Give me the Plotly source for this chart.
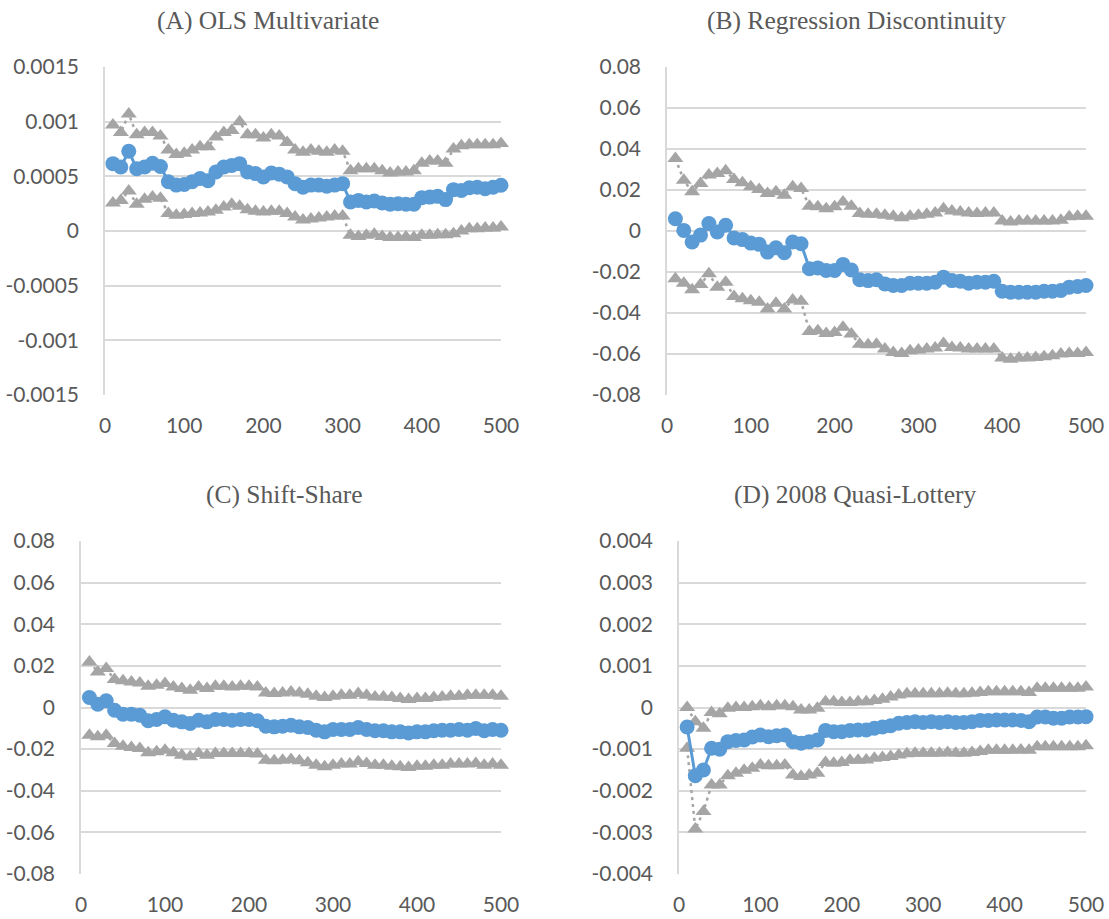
import plotly.graph_objects as go

# Styling constants
BLUE = "#5B9BD5"
GRAY = "#A5A5A5"
GRID = "#D9D9D9"
TEXT = "#595959"
TICK_FONT = "Lato"
TITLE_FONT = "Liberation Serif"
W, H = 1109, 919

# bandwidth (x)
xs = list(range(10, 501, 10))

# (A) OLS Multivariate
a_est = [0.000616, 0.000585, 0.00073, 0.00057, 0.000585, 0.00062, 0.00059, 0.00045, 0.00042, 0.000425,
         0.00045, 0.00048, 0.00046, 0.00054, 0.000585, 0.0006, 0.000616, 0.00054, 0.000525, 0.000495,
         0.00053, 0.00052, 0.000495, 0.000433, 0.0004, 0.00042, 0.00042, 0.00041, 0.00042, 0.000433,
         0.000265, 0.00028, 0.000265, 0.000275, 0.000256, 0.000244, 0.00025, 0.000244, 0.000244, 0.000305,
         0.00031, 0.000317, 0.000287, 0.000378, 0.00037, 0.000396, 0.0004, 0.000387, 0.0004, 0.000418]
a_hi = [0.00097, 0.0009, 0.00107, 0.00088, 0.0009, 0.0009, 0.00087, 0.00074, 0.0007, 0.00071,
        0.00074, 0.00077, 0.00077, 0.00086, 0.0009, 0.00092, 0.001, 0.00088, 0.00088, 0.00085,
        0.00088, 0.00087, 0.00081, 0.00074, 0.00072, 0.00074, 0.00073, 0.00072, 0.00074, 0.00073,
        0.00055, 0.00057, 0.00057, 0.00057, 0.00055, 0.00053, 0.00054, 0.00054, 0.00055, 0.00062,
        0.00064, 0.00064, 0.00062, 0.00075, 0.00078, 0.00079, 0.00079, 0.00079, 0.00079, 0.0008]
a_lo = [0.000256, 0.00028, 0.000366, 0.000244, 0.00029, 0.00031, 0.0003, 0.00016, 0.000143, 0.00015,
        0.00016, 0.000165, 0.000174, 0.00019, 0.00022, 0.000244, 0.000226, 0.000195, 0.00018, 0.000174,
        0.00018, 0.00018, 0.00016, 0.000128, 0.0001, 0.00011, 0.00012, 0.000128, 0.000137, 0.000137,
        -0.00004, -0.00005, -0.00004, -0.00003, -0.00005, -0.00006, -0.00006, -0.000055, -0.00006, -0.00004,
        -0.00004, -0.000035, -0.000035, -0.000025, 0.0, 0.00002, 0.00002, 0.000027, 0.000027, 0.000036]

# (B) Regression Discontinuity
b_est = [0.006, 0.0003, -0.0054, -0.002, 0.0036, -0.0005, 0.0028, -0.0034, -0.0042, -0.0059,
         -0.0065, -0.0103, -0.0082, -0.0106, -0.0054, -0.0062, -0.0184, -0.018, -0.0193, -0.0193,
         -0.0163, -0.019, -0.0238, -0.0242, -0.0238, -0.0258, -0.0266, -0.0266, -0.0255, -0.0255,
         -0.0255, -0.025, -0.0225, -0.0242, -0.0245, -0.0255, -0.025, -0.025, -0.0245, -0.0294,
         -0.0299, -0.0299, -0.0299, -0.0299, -0.0294, -0.0294, -0.029, -0.0274, -0.0271, -0.0266]
b_hi = [0.0354, 0.0248, 0.0191, 0.0232, 0.0273, 0.028, 0.0294, 0.0251, 0.0235, 0.0216,
        0.0202, 0.0183, 0.0191, 0.0175, 0.0216, 0.0207, 0.0121, 0.0118, 0.0109, 0.0118,
        0.0142, 0.0121, 0.0085, 0.0082, 0.0082, 0.0077, 0.0072, 0.0065, 0.0072, 0.0077,
        0.0082, 0.0088, 0.0109, 0.0098, 0.0093, 0.0088, 0.0085, 0.0088, 0.0088, 0.0049,
        0.0044, 0.0049, 0.0049, 0.0049, 0.0049, 0.0049, 0.0052, 0.0069, 0.0072, 0.0072]
b_lo = [-0.0233, -0.0255, -0.0287, -0.0261, -0.0209, -0.0274, -0.025, -0.032, -0.0331, -0.034,
        -0.0348, -0.038, -0.0353, -0.038, -0.0336, -0.0343, -0.049, -0.0487, -0.05, -0.0495,
        -0.047, -0.0503, -0.0552, -0.0555, -0.0552, -0.0576, -0.0593, -0.0598, -0.0584, -0.0581,
        -0.0576, -0.0571, -0.0549, -0.0568, -0.0571, -0.0576, -0.0576, -0.0576, -0.0576, -0.062,
        -0.0625, -0.062, -0.062, -0.0617, -0.0614, -0.0609, -0.06, -0.0597, -0.0597, -0.0593]

# (C) Shift-Share
c_est = [0.0048, 0.0016, 0.0032, -0.0013, -0.0032, -0.0032, -0.0037, -0.0064, -0.0058, -0.0045,
         -0.0061, -0.0069, -0.0077, -0.0061, -0.0069, -0.0058, -0.0058, -0.0061, -0.0058, -0.0058,
         -0.0064, -0.009, -0.0093, -0.009, -0.0085, -0.0093, -0.0096, -0.0109, -0.0117, -0.0106,
         -0.0106, -0.0106, -0.0096, -0.0106, -0.0112, -0.0112, -0.0117, -0.0117, -0.0122, -0.0117,
         -0.0117, -0.0112, -0.0109, -0.0109, -0.0106, -0.0109, -0.0101, -0.0112, -0.0106, -0.0109]
c_hi = [0.0219, 0.0171, 0.0187, 0.0134, 0.0128, 0.0123, 0.0118, 0.0102, 0.0107, 0.0115,
        0.0099, 0.0091, 0.0083, 0.0099, 0.0091, 0.0102, 0.0102, 0.0099, 0.0102, 0.0102,
        0.0099, 0.007, 0.0067, 0.007, 0.0075, 0.007, 0.0064, 0.0054, 0.0048, 0.0054,
        0.0059, 0.0059, 0.0067, 0.0059, 0.0051, 0.0051, 0.0048, 0.0043, 0.0038, 0.0043,
        0.0043, 0.0048, 0.0051, 0.0054, 0.0054, 0.0059, 0.0059, 0.0059, 0.0059, 0.0054]
c_lo = [-0.0133, -0.0141, -0.0133, -0.0173, -0.0186, -0.0192, -0.0197, -0.0218, -0.0213, -0.0205,
        -0.0218, -0.0229, -0.0237, -0.0221, -0.0229, -0.0221, -0.0221, -0.0221, -0.0221, -0.0221,
        -0.0224, -0.0253, -0.0256, -0.0253, -0.025, -0.0256, -0.0266, -0.0277, -0.0285, -0.0277,
        -0.0272, -0.0272, -0.0261, -0.0269, -0.0277, -0.0277, -0.0282, -0.0285, -0.0288, -0.0282,
        -0.0282, -0.0277, -0.0277, -0.0272, -0.0272, -0.0272, -0.0269, -0.0277, -0.0272, -0.0277]

# (D) 2008 Quasi-Lottery
d_est = [-0.00047, -0.00164, -0.0015, -0.00098, -0.001, -0.00082, -0.00079, -0.00078, -0.00071, -0.00066,
         -0.0007, -0.00068, -0.00066, -0.00082, -0.00086, -0.00082, -0.00078, -0.00055, -0.00058, -0.00058,
         -0.00055, -0.00054, -0.00054, -0.0005, -0.00047, -0.00044, -0.00038, -0.00036, -0.00034, -0.00036,
         -0.00034, -0.00036, -0.00034, -0.00036, -0.00036, -0.00034, -0.00031, -0.00031, -0.0003, -0.0003,
         -0.0003, -0.00031, -0.00034, -0.00023, -0.00023, -0.00026, -0.00026, -0.00023, -0.00023, -0.00022]
d_hi = [0.0, -0.00034, -0.0005, -0.00012, -0.00015, -0.00002, 0.0, 0.0, 0.00002, 0.00004,
        0.00002, 0.00004, 0.00004, 0.00002, -0.00006, -0.00006, -0.00002, 0.00014, 0.00014, 0.00012,
        0.00012, 0.00014, 0.00014, 0.00017, 0.0002, 0.00025, 0.0003, 0.00033, 0.00033, 0.00033,
        0.00033, 0.00033, 0.00034, 0.00033, 0.00033, 0.00034, 0.00036, 0.00038, 0.00038, 0.00038,
        0.00038, 0.00038, 0.00036, 0.00046, 0.00046, 0.00046, 0.00046, 0.00046, 0.00046, 0.00049]
d_lo = [-0.00098, -0.00292, -0.0025, -0.00186, -0.00186, -0.00164, -0.00158, -0.00151, -0.00146, -0.00138,
        -0.0014, -0.0014, -0.00138, -0.00162, -0.00166, -0.00162, -0.00158, -0.00132, -0.00134, -0.00132,
        -0.00127, -0.00127, -0.00126, -0.00122, -0.0012, -0.00118, -0.00114, -0.00111, -0.0011, -0.0011,
        -0.0011, -0.0011, -0.00108, -0.0011, -0.0011, -0.00108, -0.00106, -0.00103, -0.00103, -0.00103,
        -0.00103, -0.00102, -0.00103, -0.00094, -0.00094, -0.00094, -0.00094, -0.00094, -0.00094, -0.00092]

# y tick labels per panel
ticks_a = [-0.0015, -0.001, -0.0005, 0, 0.0005, 0.001, 0.0015]
labels_a = ["-0.0015", "-0.001", "-0.0005", "0", "0.0005", "0.001", "0.0015"]
ticks_bc = [-0.08, -0.06, -0.04, -0.02, 0, 0.02, 0.04, 0.06, 0.08]
labels_bc = ["-0.08", "-0.06", "-0.04", "-0.02", "0", "0.02", "0.04", "0.06", "0.08"]
ticks_d = [-0.004, -0.003, -0.002, -0.001, 0, 0.001, 0.002, 0.003, 0.004]
labels_d = ["-0.004", "-0.003", "-0.002", "-0.001", "0", "0.001", "0.002", "0.003", "0.004"]

# panel: title, series, ticks, plot box in pixels (left, right, top, bottom), title position
panels = [
    ("(A) OLS Multivariate", a_est, a_hi, a_lo, ticks_a, labels_a, (105, 501, 67, 395), (268, 20)),
    ("(B) Regression Discontinuity", b_est, b_hi, b_lo, ticks_bc, labels_bc, (667, 1086, 67, 395), (856, 20)),
    ("(C) Shift-Share", c_est, c_hi, c_lo, ticks_bc, labels_bc, (81, 501, 541, 874), (284, 494)),
    ("(D) 2008 Quasi-Lottery", d_est, d_hi, d_lo, ticks_d, labels_d, (679, 1086, 541, 874), (855, 494)),
]

fig = go.Figure()
annotations = []

for i, (title, est, hi, lo, tv, tt, box, tpos) in enumerate(panels):
    n = "" if i == 0 else str(i + 1)
    xa, ya = "x" + n, "y" + n
    for ys in (hi, lo):
        fig.add_trace(go.Scatter(
            x=xs, y=ys, xaxis=xa, yaxis=ya, mode="lines+markers",
            line=dict(color=GRAY, width=2.5, dash="3px,4px"),
            marker=dict(symbol="triangle-up", size=14, color=GRAY),
            showlegend=False, cliponaxis=False,
        ))
    fig.add_trace(go.Scatter(
        x=xs, y=est, xaxis=xa, yaxis=ya, mode="lines+markers",
        line=dict(color=BLUE, width=3),
        marker=dict(symbol="circle", size=15, color=BLUE),
        showlegend=False, cliponaxis=False,
    ))

    left, right, top, bottom = box
    fig.layout["xaxis" + n] = dict(
        domain=[left / W, right / W], anchor=ya, range=[0, 500], automargin=False,
        tickmode="array", tickvals=[0, 100, 200, 300, 400, 500],
        showgrid=False, zeroline=False, showline=False,
        ticks="outside", ticklen=12, tickcolor="rgba(0,0,0,0)",
        tickfont=dict(family=TICK_FONT, size=21, color=TEXT),
    )
    fig.layout["yaxis" + n] = dict(
        domain=[1 - bottom / H, 1 - top / H], anchor=xa, range=[tv[0], tv[-1]], automargin=False,
        tickmode="array", tickvals=tv, ticktext=tt,
        showgrid=True, gridcolor=GRID, gridwidth=1.5, zeroline=False,
        showline=True, linecolor=GRID, linewidth=1.5,
        ticks="outside", ticklen=20, tickcolor="rgba(0,0,0,0)",
        tickfont=dict(family=TICK_FONT, size=21, color=TEXT),
    )
    annotations.append(dict(
        text=title, x=tpos[0] / W, y=1 - tpos[1] / H, xref="paper", yref="paper",
        xanchor="center", yanchor="middle", showarrow=False,
        font=dict(family=TITLE_FONT, size=25.5, color=TEXT),
    ))

fig.update_layout(
    width=W, height=H,
    margin=dict(l=0, r=0, t=0, b=0, autoexpand=False),
    paper_bgcolor="white", plot_bgcolor="white",
    annotations=annotations,
)

# page body has a default 8px margin; drop it so the figure fills the window
fig.write_html(
    "out.html",
    config={"displayModeBar": False},
    post_script="document.body.style.margin = '0';",
)
